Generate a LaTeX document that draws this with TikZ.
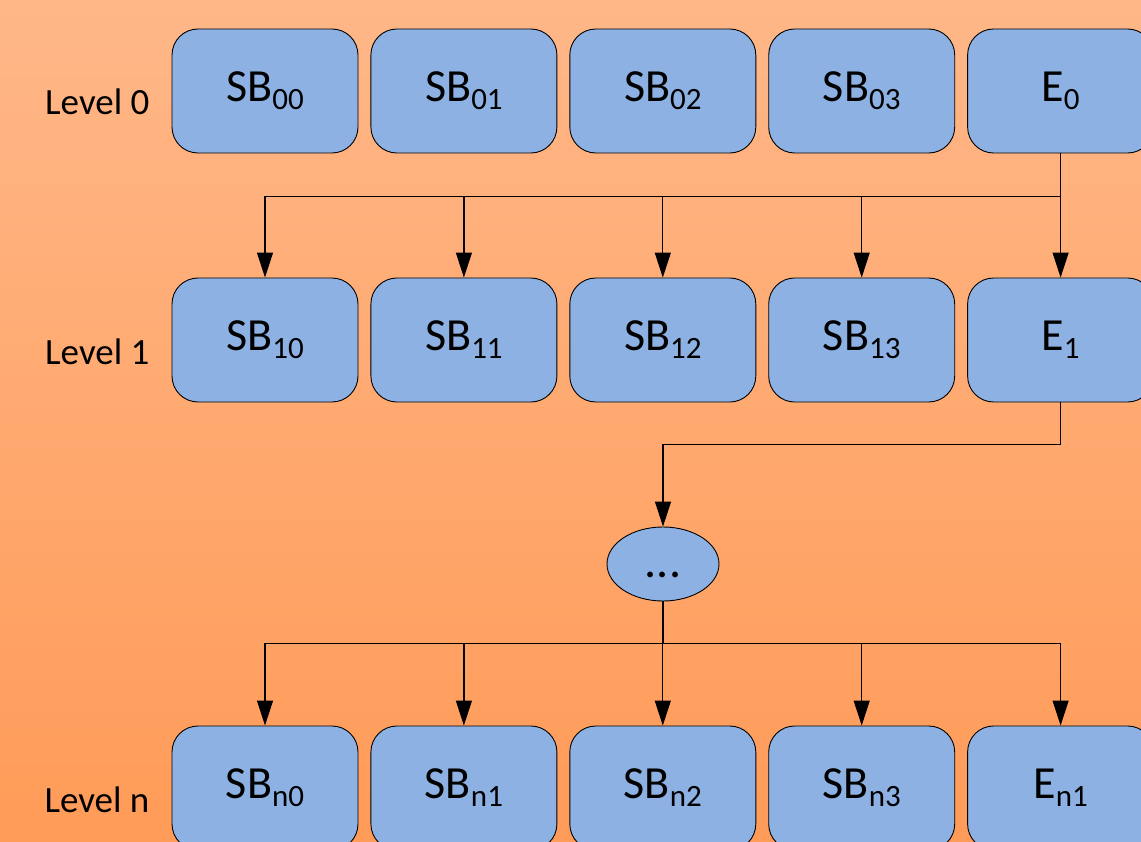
\documentclass[tikz,border=0pt]{standalone}
\usepackage{fontspec}
\setmainfont{Carlito}
\usetikzlibrary{arrows.meta, positioning, shapes.geometric}
\definecolor{bgtop}{RGB}{255,183,136}
\definecolor{bgbot}{RGB}{255,155,88}
\definecolor{blockblue}{RGB}{141,177,226}
\newcommand{\idx}[1]{\raisebox{-8pt}{\fontsize{31}{31}\selectfont #1}}

\begin{document}
\begin{tikzpicture}[x=1pt, y=-1pt,
  blk/.style={draw, rounded corners=26pt, fill=blockblue, line width=0.9pt,
              minimum width=186pt, minimum height=124pt, inner sep=0pt,
              font=\fontsize{46}{54}\selectfont},
  lvl/.style={font=\fontsize{37}{44}\selectfont, anchor=base east, inner sep=0pt},
  wire/.style={line width=1.2pt},
  link/.style={wire, -{Triangle[width=16pt, length=25pt]}},
]
% Background
\useasboundingbox (0,0) rectangle (1141,842);
\clip (0,0) rectangle (1141,842);
\shade[top color=bgtop, bottom color=bgbot] (0,0) rectangle (1141,842);

% Level 0
\node[blk] (sb00) at (265,91) {SB\idx{00}};
\node[blk, right=12pt of sb00] (sb01) {SB\idx{01}};
\node[blk, right=12pt of sb01] (sb02) {SB\idx{02}};
\node[blk, right=12pt of sb02] (sb03) {SB\idx{03}};
\node[blk, right=12pt of sb03] (e0) {E\idx{0}};
\node[lvl] (lvl0) at ([xshift=-22pt, yshift=-24pt]sb00.west) {Level 0};

% Level 1
\node[blk] (sb10) at (265,340) {SB\idx{10}};
\node[blk, right=12pt of sb10] (sb11) {SB\idx{11}};
\node[blk, right=12pt of sb11] (sb12) {SB\idx{12}};
\node[blk, right=12pt of sb12] (sb13) {SB\idx{13}};
\node[blk, right=12pt of sb13] (e1) {E\idx{1}};
\node[lvl] (lvl1) at ([xshift=-22pt, yshift=-24pt]sb10.west) {Level 1};

% Intermediate levels
\node[draw, ellipse, fill=blockblue, line width=0.9pt, minimum width=112pt,
      minimum height=74pt, inner sep=0pt, text height=26pt, text depth=0pt,
      font=\fontsize{48}{54}\selectfont]
      (dots) at (663,564) {...};

% Level n
\node[blk] (sbn0) at (265,788) {SB\idx{n0}};
\node[blk, right=12pt of sbn0] (sbn1) {SB\idx{n1}};
\node[blk, right=12pt of sbn1] (sbn2) {SB\idx{n2}};
\node[blk, right=12pt of sbn2] (sbn3) {SB\idx{n3}};
\node[blk, right=12pt of sbn3] (en) {E\idx{n1}};
\node[lvl] (lvln) at ([xshift=-22pt, yshift=-24pt]sbn0.west) {Level n};

% Connectors
\coordinate (bus0) at ([yshift=-43pt]e0.south);
\draw[wire] (e0.south) -- (bus0) -- (bus0 -| sb10.north);
\foreach \b in {sb10, sb11, sb12, sb13, e1}
  \draw[link] (bus0 -| \b.north) -- (\b.north);

\coordinate (bus1) at ([yshift=-42pt]e1.south);
\draw[link] (e1.south) -- (bus1) -| (dots.north);

\coordinate (busn) at ([yshift=-42pt]dots.south);
\draw[wire] (dots.south) -- (busn);
\draw[wire] (busn -| sbn0.north) -- (busn -| en.north);
\foreach \b in {sbn0, sbn1, sbn2, sbn3, en}
  \draw[link] (busn -| \b.north) -- (\b.north);
\end{tikzpicture}
\end{document}
